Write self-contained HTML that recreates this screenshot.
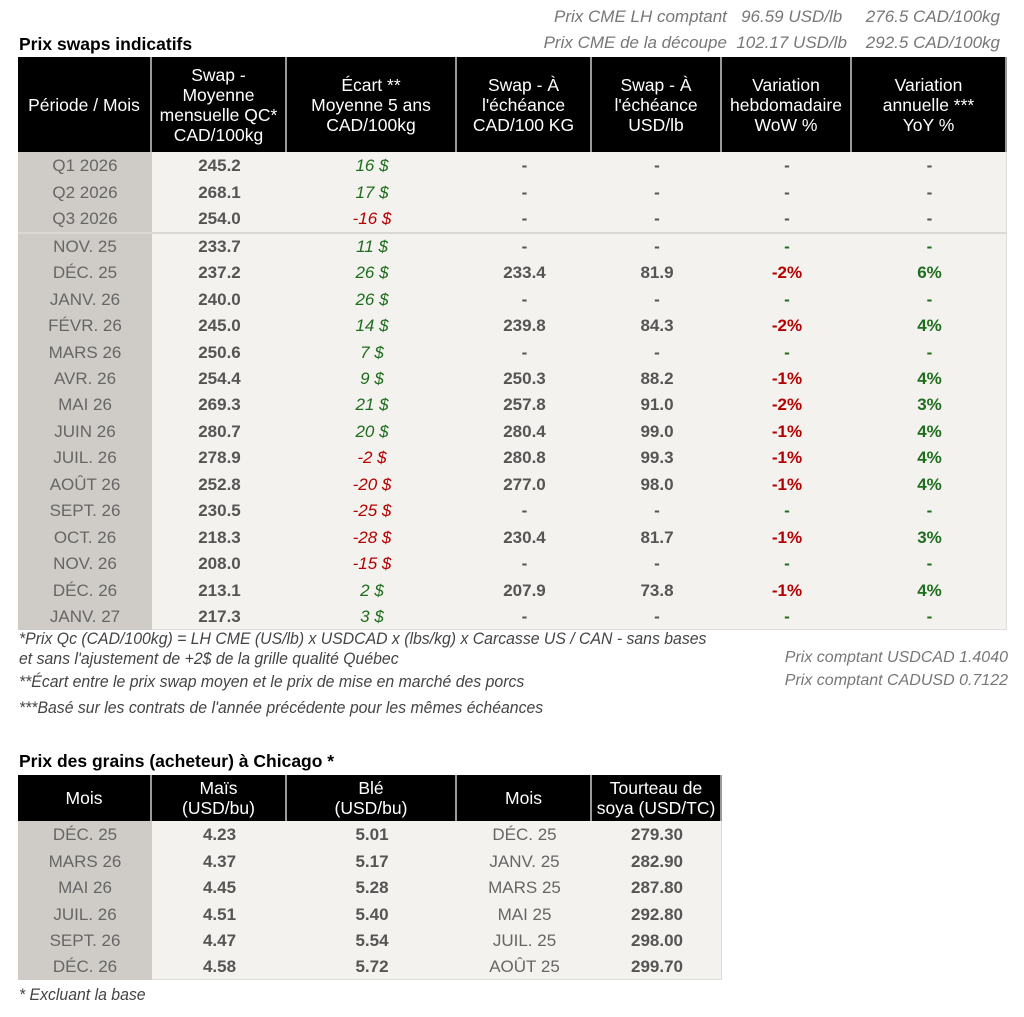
<!DOCTYPE html>
<html><head><meta charset="utf-8">
<style>
html,body{margin:0;padding:0;background:#fff;}
body{width:1024px;height:1017px;position:relative;overflow:hidden;font-family:"Liberation Sans",Arial,sans-serif;}
.cell{position:absolute;display:flex;align-items:center;justify-content:center;text-align:center;box-sizing:border-box;}
.hd{background:#000;color:#fff;font-size:17.5px;line-height:20px;border-right:2px solid #9a9a9a;}
.first{background:#cfccc7;color:#666;font-size:17px;}
.val{color:#555;font-weight:bold;font-size:17px;}
.it{font-style:italic;font-size:17px;}
.g{color:#1e6e1e;} .r{color:#b40000;}
.note{position:absolute;font-style:italic;color:#444;font-size:17px;white-space:nowrap;transform:scaleX(0.93);transform-origin:left center;}
.right{color:#777;font-style:italic;font-size:17px;white-space:nowrap;position:absolute;}
.title{position:absolute;font-weight:bold;font-size:17.5px;color:#000;}
</style></head>
<body>
<div class="right" style="right:24px;top:7px">Prix CME LH comptant&nbsp;&nbsp; 96.59 USD/lb&nbsp;&nbsp;&nbsp;&nbsp; 276.5 CAD/100kg</div>
<div class="right" style="right:24px;top:33px">Prix CME de la découpe&nbsp; 102.17 USD/lb&nbsp;&nbsp;&nbsp; 292.5 CAD/100kg</div>
<div class="title" style="left:19px;top:34px">Prix swaps indicatifs</div>
<div class="note" style="left:19px;top:629px">*Prix Qc (CAD/100kg) = LH CME (US/lb) x USDCAD x (lbs/kg) x Carcasse US / CAN - sans bases</div>
<div class="note" style="left:19px;top:649px">et sans l'ajustement de +2$ de la grille qualité Québec</div>
<div class="note" style="left:19px;top:672px">**Écart entre le prix swap moyen et le prix de mise en marché des porcs</div>
<div class="note" style="left:19px;top:698px">***Basé sur les contrats de l'année précédente pour les mêmes échéances</div>
<div class="right" style="right:16px;top:649px;font-size:16px">Prix comptant USDCAD 1.4040</div>
<div class="right" style="right:16px;top:672px;font-size:16px">Prix comptant CADUSD 0.7122</div>
<div class="title" style="left:19px;top:751px">Prix des grains (acheteur) à Chicago *</div>
<div class="note" style="left:19px;top:985px">* Excluant la base</div>
<script>
const periods=["Q1 2026","Q2 2026","Q3 2026","NOV. 25","DÉC. 25","JANV. 26","FÉVR. 26","MARS 26","AVR. 26","MAI 26","JUIN 26","JUIL. 26","AOÛT 26","SEPT. 26","OCT. 26","NOV. 26","DÉC. 26","JANV. 27"];
const swapAvg=["245.2","268.1","254.0","233.7","237.2","240.0","245.0","250.6","254.4","269.3","280.7","278.9","252.8","230.5","218.3","208.0","213.1","217.3"];
const spread=[16,17,-16,11,26,26,14,7,9,21,20,-2,-20,-25,-28,-15,2,3];
const swapCad=["-","-","-","-","233.4","-","239.8","-","250.3","257.8","280.4","280.8","277.0","-","230.4","-","207.9","-"];
const swapUsd=["-","-","-","-","81.9","-","84.3","-","88.2","91.0","99.0","99.3","98.0","-","81.7","-","73.8","-"];
const wow=["-","-","-","-","-2%","-","-2%","-","-1%","-2%","-1%","-1%","-1%","-","-1%","-","-1%","-"];
const yoy=["-","-","-","-","6%","-","4%","-","4%","3%","4%","4%","4%","-","3%","-","4%","-"];
const headers1=["Période / Mois","Swap -<br>Moyenne<br>mensuelle QC*<br>CAD/100kg","Écart **<br>Moyenne 5 ans<br>CAD/100kg","Swap - À<br>l'échéance<br>CAD/100 KG","Swap - À<br>l'échéance<br>USD/lb","Variation<br>hebdomadaire<br>WoW %","Variation<br>annuelle ***<br>YoY %"];
const gMonths=["DÉC. 25","MARS 26","MAI 26","JUIL. 26","SEPT. 26","DÉC. 26"];
const corn=["4.23","4.37","4.45","4.51","4.47","4.58"];
const wheat=["5.01","5.17","5.28","5.40","5.54","5.72"];
const sMonths=["DÉC. 25","JANV. 25","MARS 25","MAI 25","JUIL. 25","AOÛT 25"];
const soy=["279.30","282.90","287.80","292.80","298.00","299.70"];
const headers2=["Mois","Maïs<br>(USD/bu)","Blé<br>(USD/bu)","Mois","Tourteau de<br>soya (USD/TC)"];

function mk(parent,cls,x,y,w,h,html,bg){
  const d=document.createElement('div');d.className='cell '+cls;
  const y0=Math.round(y),y1=Math.round(y+h);
  d.style.left=x+'px';d.style.top=y0+'px';d.style.width=w+'px';d.style.height=(y1-y0)+'px';
  if(bg)d.style.background=bg;d.innerHTML=html;parent.appendChild(d);return d;}
const body=document.body;
const c1=[18,152,287,457,592,722,852,1007];
const top1=57,hh1=95,rh=26.45,b1=153;
for(let i=0;i<7;i++){const e=mk(body,'hd',c1[i],top1,c1[i+1]-c1[i],hh1,headers1[i]);

}
const bg1=mk(body,'',152,152,855,periods.length*rh+2,'','#f4f2ee');


bg1.style.borderRight='1px solid #ddd';bg1.style.borderBottom='1px solid #ddd';
const fbg=mk(body,'first',18,152,134,periods.length*rh+2,'');


periods.forEach((p,i)=>{
  const y=b1+i*rh+(i>=3?1:0);
  const f=mk(body,'first',18,y,134,rh,p);
  
  
  const a=mk(body,'val',152,y,135,rh,swapAvg[i]);
  
  
  const s=spread[i];
  const b=mk(body,'it '+(s<0?'r':'g'),287,y,170,rh,s+' $');
  
  
  const c=mk(body,'val',457,y,135,rh,swapCad[i]);
  
  
  const d=mk(body,'val',592,y,130,rh,swapUsd[i]);
  
  
  const wc=i<3?'':(wow[i]==='-'?'g':'r');
  const w=mk(body,'val '+wc,722,y,130,rh,wow[i]);
  
  
  const yc=i<3?'':'g';
  const yy=mk(body,'val '+yc,852,y,155,rh,yoy[i]);
  
  
});
const sep=mk(body,'',18,b1+3*rh-0.5,989,2,'','#dcd9d4');


const c2=[18,152,287,457,592,722];
const top2=775,hh2=46,rh2=26.4;
for(let i=0;i<5;i++){const e=mk(body,'hd',c2[i],top2,c2[i+1]-c2[i],hh2,headers2[i]);

}
const bg2=mk(body,'',152,821,570,gMonths.length*rh2+1,'','#f4f2ee');


bg2.style.borderRight='1px solid #ddd';bg2.style.borderBottom='1px solid #ddd';
const fbg2=mk(body,'first',18,821,134,gMonths.length*rh2+1,'');


gMonths.forEach((m,i)=>{
  const y=822+i*rh2;
  const a=mk(body,'first',18,y,134,rh2,m);
  
  
  const b=mk(body,'val',152,y,135,rh2,corn[i]);
  
  
  const c=mk(body,'val',287,y,170,rh2,wheat[i]);
  
  
  const d=mk(body,'',457,y,135,rh2,sMonths[i]);
  d.style.color='#666';d.style.fontSize='17px';
  
  
  const e=mk(body,'val',592,y,130,rh2,soy[i]);
  
  
});
</script>
</body></html>
